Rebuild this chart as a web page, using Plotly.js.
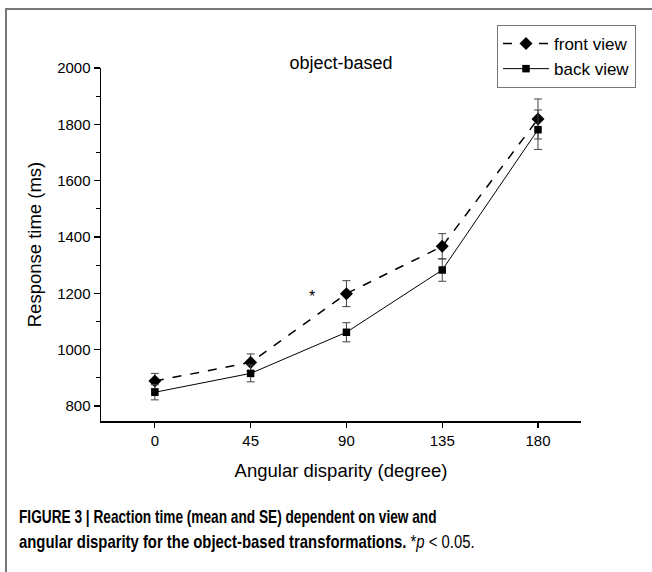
<!DOCTYPE html>
<html>
<head>
<meta charset="utf-8">
<script src="https://cdn.plot.ly/plotly-3.0.1.min.js"></script>
<style>
  html, body { margin: 0; padding: 0; background: #fff; }
  #chart { width: 652px; height: 572px; }
</style>
</head>
<body>
<div id="chart"></div>
<script>
// ---- data ----
const angles = [0, 45, 90, 135, 180];
const tickLabels = ["0", "45", "90", "135", "180"];
const frontView = [889, 955, 1199, 1367, 1819];
const frontSE = [27, 30, 46, 45, 71];
const backView = [849, 916, 1062, 1283, 1781];
const backSE = [27, 30, 34, 40, 70];
const seriesNames = ["front view", "back view"];
const sigMark = { x: 74, y: 1188, text: "*" };
const panelTitle = "object-based";
const xTitle = "Angular disparity (degree)";
const yTitle = "Response time (ms)";
const captionLine1 = "<b>FIGURE 3 | Reaction time (mean and SE) dependent on view and</b>";
const captionLine2 = "<b>angular disparity for the object-based transformations.</b> *<i>p</i> &lt; 0.05.";

const FONT = "Liberation Sans, Arial, sans-serif";

const traces = [
  {
    x: angles, y: frontView, name: seriesNames[0], type: "scatter", mode: "lines+markers",
    line: { color: "#000", width: 1.5, dash: "dash" },
    marker: { symbol: "diamond", size: 10, color: "#000" },
    error_y: { type: "data", array: frontSE, visible: true, color: "#444", thickness: 1, width: 4 }
  },
  {
    x: angles, y: backView, name: seriesNames[1], type: "scatter", mode: "lines+markers",
    line: { color: "#000", width: 1 },
    marker: { symbol: "square", size: 7.5, color: "#000" },
    error_y: { type: "data", array: backSE, visible: true, color: "#444", thickness: 1, width: 4 }
  }
];

// plot area: x 101..581, y 68..421
const L = 101, R = 581, T = 68, B = 421;
const px = v => (v - L) / (R - L);
const py = v => (B - v) / (B - T);

const layout = {
  width: 652, height: 572,
  margin: { l: L, r: 652 - R, t: T, b: 572 - B },
  paper_bgcolor: "#fff", plot_bgcolor: "#fff",
  font: { family: FONT, color: "#000", size: 15 },
  showlegend: true,
  title: {
    text: panelTitle, font: { family: FONT, size: 18, color: "#000" },
    x: 341 / 652, xanchor: "center", y: 1 - 63 / 572, yanchor: "middle"
  },
  xaxis: {
    range: [-25.3, 200.2],
    tickmode: "array", tickvals: angles, ticktext: tickLabels,
    showline: true, linecolor: "#000", linewidth: 1.5,
    ticks: "outside", ticklen: 5, tickwidth: 1.2, tickcolor: "#000",
    showgrid: false, zeroline: false,
    tickfont: { family: FONT, size: 15, color: "#000" },
    title: { text: xTitle, font: { family: FONT, size: 18.5, color: "#000" }, standoff: 16 },
    automargin: false
  },
  yaxis: {
    range: [747, 2000],
    tick0: 800, dtick: 200,
    showline: true, linecolor: "#000", linewidth: 1.5,
    ticks: "outside", ticklen: 6, tickwidth: 1.2, tickcolor: "#000",
    minor: { dtick: 100, tick0: 800, ticks: "outside", ticklen: 4, tickwidth: 1.2, tickcolor: "#000", showgrid: false },
    showgrid: false, zeroline: false,
    tickfont: { family: FONT, size: 15, color: "#000" },
    title: { text: yTitle, font: { family: FONT, size: 18.5, color: "#000" }, standoff: 10 },
    automargin: false
  },
  legend: {
    x: px(636), xanchor: "right", y: py(25), yanchor: "top",
    bordercolor: "#777", borderwidth: 1, bgcolor: "#fff",
    font: { family: FONT, size: 17, color: "#000" },
    itemwidth: 46, tracegroupgap: 0
  },
  annotations: [
    { x: sigMark.x, y: sigMark.y, xref: "x", yref: "y", text: sigMark.text, showarrow: false,
      font: { family: FONT, size: 16, color: "#000" } },
    { x: px(17), y: py(517), xref: "paper", yref: "paper", xanchor: "left", yanchor: "middle",
      text: captionLine1, showarrow: false, align: "left",
      font: { family: FONT, size: 18, color: "#000" } },
    { x: px(17), y: py(542), xref: "paper", yref: "paper", xanchor: "left", yanchor: "middle",
      text: captionLine2, showarrow: false, align: "left",
      font: { family: FONT, size: 18, color: "#000" } }
  ],
  shapes: [
    { type: "rect", xref: "paper", yref: "paper",
      x0: px(6), x1: px(670), y0: py(590), y1: py(9),
      line: { color: "#777", width: 2 }, fillcolor: "rgba(0,0,0,0)", layer: "below" }
  ]
};

// condensed caption widths (the reference uses a condensed face)
const captionWidths = [418, 456];

Plotly.newPlot("chart", traces, layout, { staticPlot: true, displayModeBar: false }).then(gd => {
  gd.querySelectorAll(".annotation-text").forEach(t => {
    const s = t.textContent;
    let w = null;
    if (s.startsWith("FIGURE")) w = captionWidths[0];
    else if (s.startsWith("angular")) w = captionWidths[1];
    if (w === null) return;
    const bb = t.getBBox();
    const sx = w / bb.width;
    const x0 = bb.x;
    const prev = t.getAttribute("transform") || "";
    t.setAttribute("transform", prev + " translate(" + x0 + ",0) scale(" + sx + ",1) translate(" + (-x0) + ",0)");
  });
});
</script>
</body>
</html>
